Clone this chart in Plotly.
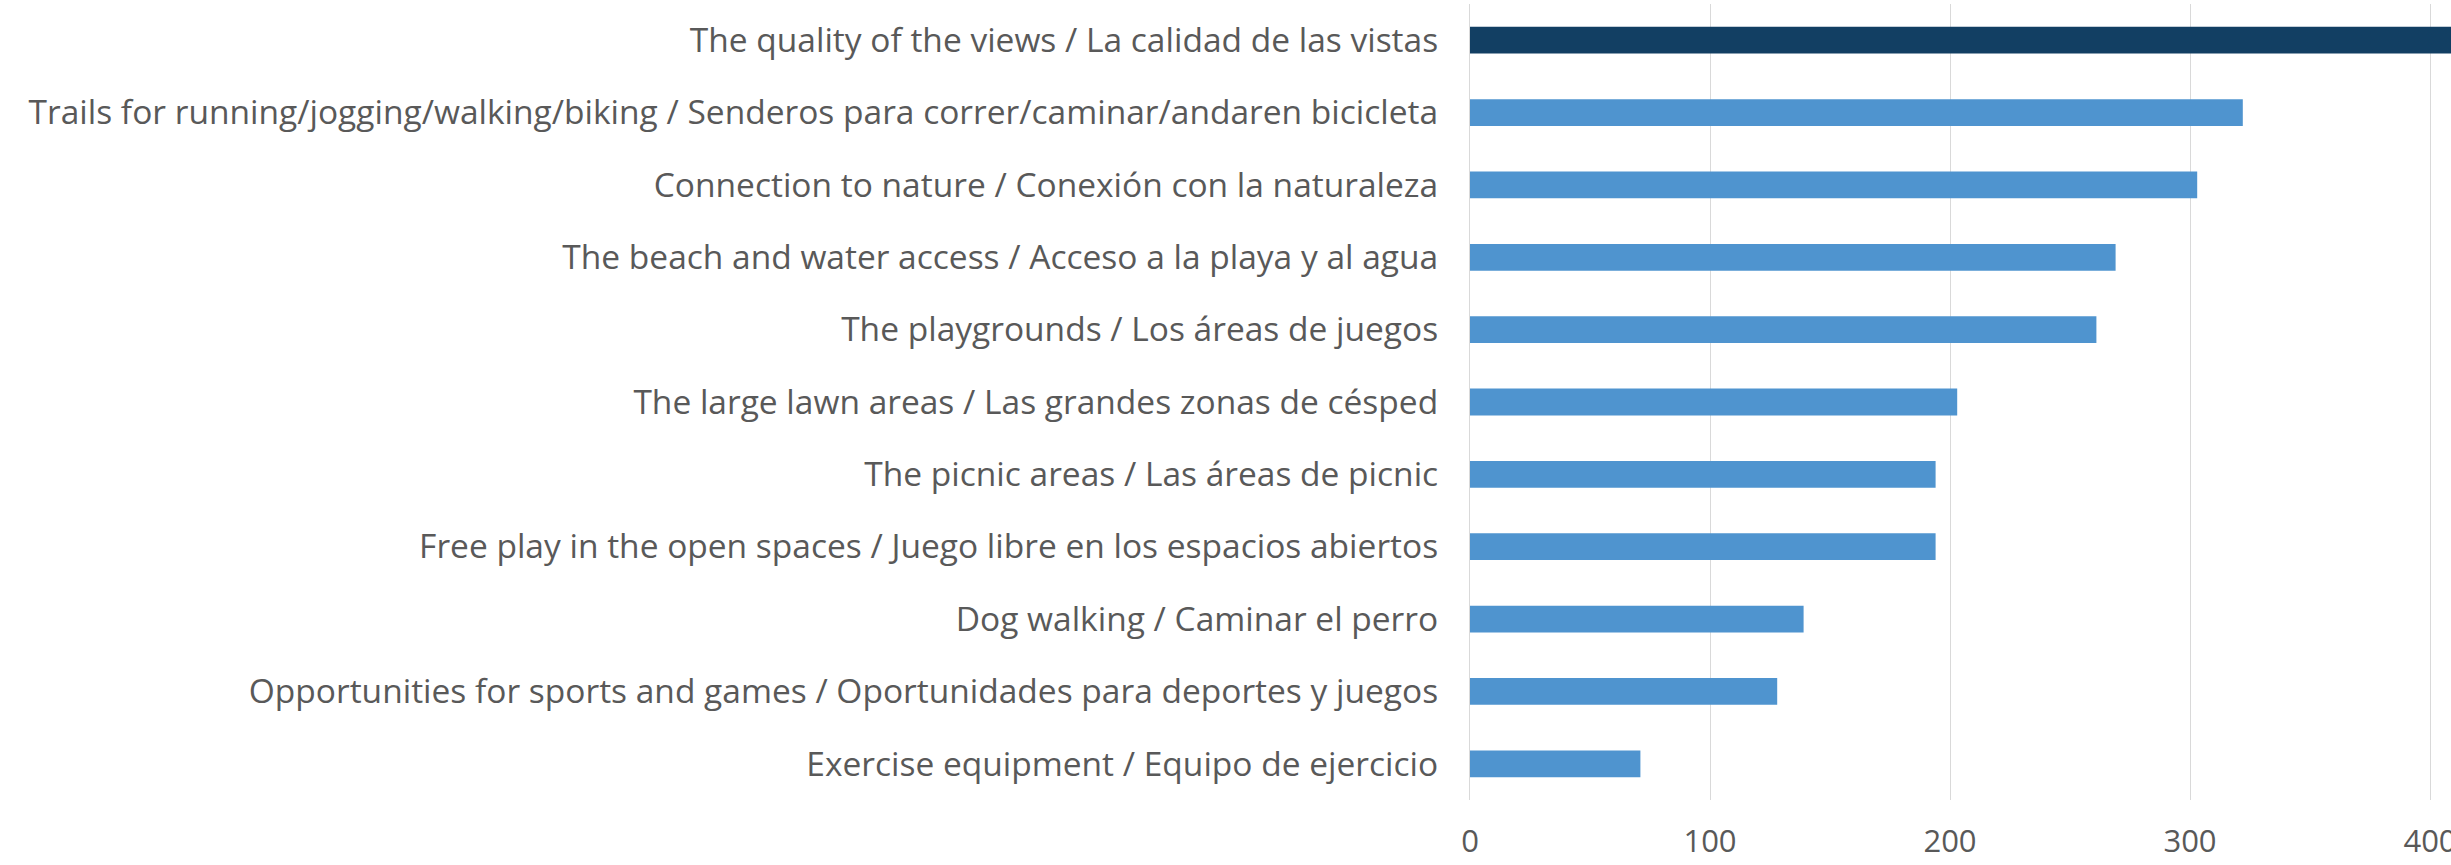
import plotly.graph_objects as go

categories = [
    "The quality of the views / La calidad de las vistas",
    "Trails for running/jogging/walking/biking / Senderos para correr/caminar/andaren bicicleta",
    "Connection to nature / Conexión con la naturaleza",
    "The beach and water access / Acceso a la playa y al agua",
    "The playgrounds / Los áreas de juegos",
    "The large lawn areas / Las grandes zonas de césped",
    "The picnic areas / Las áreas de picnic",
    "Free play in the open spaces / Juego libre en los espacios abiertos",
    "Dog walking / Caminar el perro",
    "Opportunities for sports and games / Oportunidades para deportes y juegos",
    "Exercise equipment / Equipo de ejercicio",
]
values = [425, 322, 303, 269, 261, 203, 194, 194, 139, 128, 71]
bar_colors = ["#123f63"] + ["#4f94cf"] * 10
x_ticks = [0, 100, 200, 300, 400]

W, H = 2451, 865
left = 1470
fig = go.Figure(go.Bar(
    x=values, y=categories, orientation="h",
    marker=dict(color=bar_colors, line=dict(width=0)),
    width=0.37,
))
fig.update_layout(
    width=W, height=H,
    margin=dict(l=left, r=0, t=4, b=65, pad=0),
    paper_bgcolor="white", plot_bgcolor="white",
    font=dict(family="Open Sans", size=31, color="#595959"),
    showlegend=False,
    bargap=0.63,
)
fig.update_xaxes(
    range=[0, (W - left) / 2.4],
    tickvals=x_ticks, ticktext=[str(t) for t in x_ticks],
    showgrid=True, gridcolor="#d9d9d9", gridwidth=1.3,
    zeroline=False, showline=False,
    ticks="outside", ticklen=14, tickcolor="rgba(0,0,0,0)",
    ticklabeloverflow="allow", automargin=False,
    tickfont=dict(size=31, color="#595959"),
)
fig.update_yaxes(
    categoryorder="array", categoryarray=categories, autorange="reversed",
    showgrid=False, zeroline=False,
    showline=True, linecolor="#d9d9d9", linewidth=1.3,
    ticks="", ticklabelstandoff=24,
    automargin=False,
    tickfont=dict(size=33.5, color="#595959"),
)
fig.write_html(
    "out.html",
    config={"displayModeBar": False},
    post_script="document.body.style.margin='0';document.body.style.overflow='hidden';",
)
